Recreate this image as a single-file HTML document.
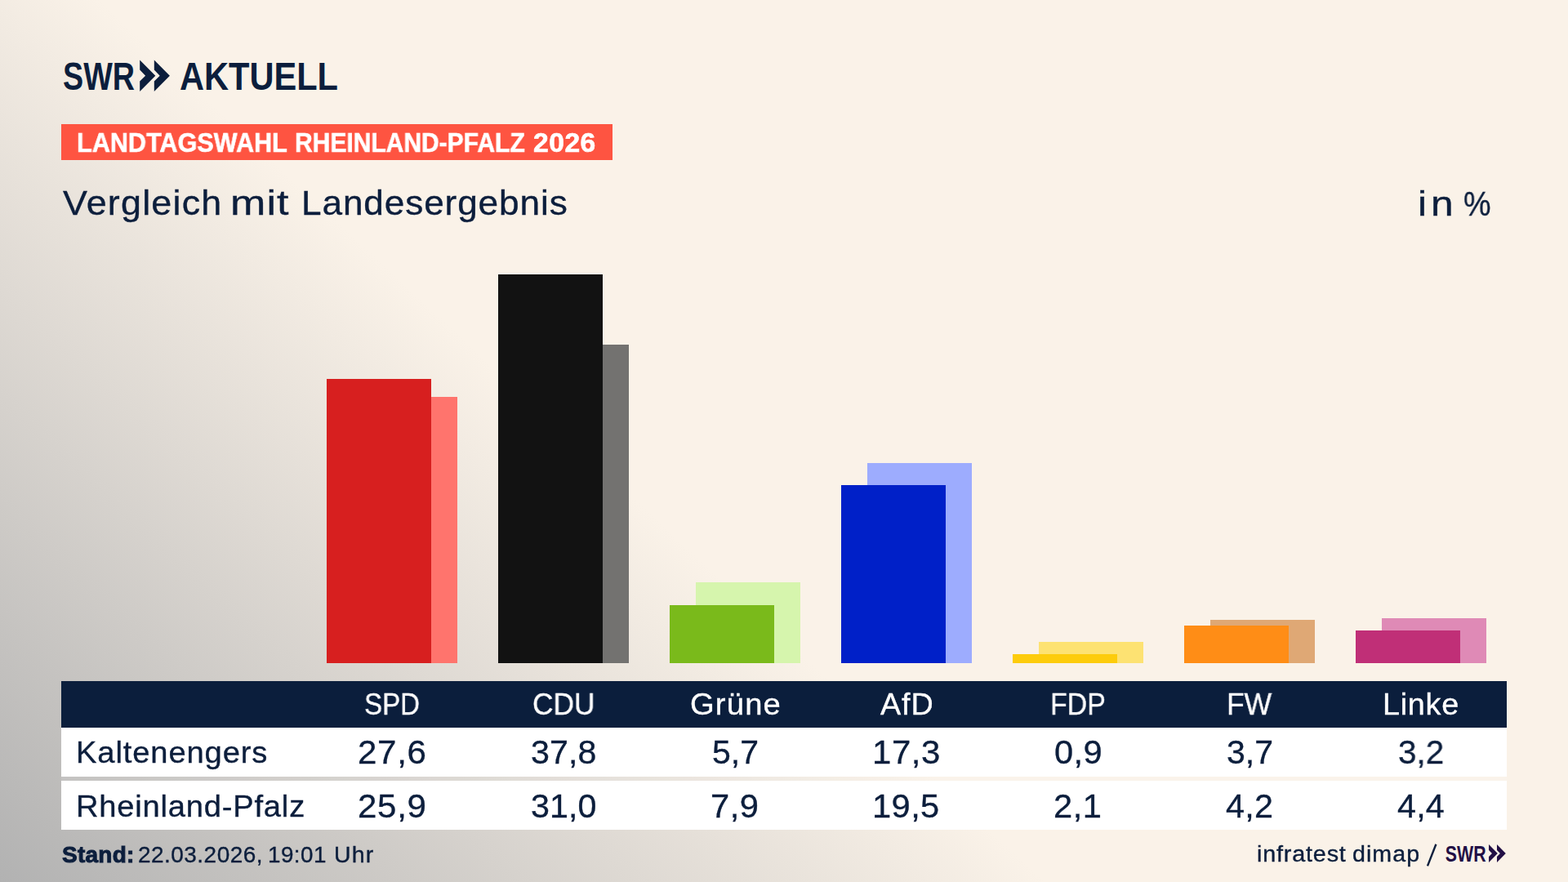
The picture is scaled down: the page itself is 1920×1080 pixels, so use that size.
<!DOCTYPE html>
<html lang="de"><head><meta charset="utf-8"><title>Vergleich mit Landesergebnis</title>
<style>
html,body{margin:0;padding:0}
body{width:1920px;height:1080px;overflow:hidden;position:relative;font-family:"Liberation Sans",sans-serif;
 background:linear-gradient(43deg,#b2b2b2 0%,#faf2e8 41.6%,#faf2e8 100%);}
.t{position:absolute;white-space:pre;line-height:normal;transform-origin:0 0;margin:0;padding:0;will-change:transform;-webkit-text-stroke:0.35px currentColor}
.bar{position:absolute;width:128px}
.box{position:absolute}
</style></head>
<body>
<svg style="position:absolute;left:0;top:0" width="440" height="130" viewBox="0 0 440 130"><text x="77" y="109.7" font-family="Liberation Sans, sans-serif" font-weight="bold" font-size="48.5" fill="#0c1e3c" textLength="88" lengthAdjust="spacingAndGlyphs">SWR</text><path fill-rule="evenodd" fill="#0c1e3c" d="M171.20 73.40 L190.30 92.80 L171.20 111.90 L171.20 99.60 L178.10 92.80 L171.20 85.60 Z M188.80 73.40 L207.90 92.80 L188.80 111.90 L188.80 99.60 L195.70 92.80 L188.80 85.60 Z"/><text x="220" y="109.7" font-family="Liberation Sans, sans-serif" font-weight="bold" font-size="48.5" fill="#0c1e3c" textLength="194" lengthAdjust="spacingAndGlyphs">AKTUELL</text></svg>
<div class="box" style="left:75px;top:152.4px;width:675px;height:43.8px;background:#fe5441"></div>
<div class="bar" style="left:432px;top:486px;height:326px;background:#ff746d"></div>
<div class="bar" style="left:400px;top:464px;height:348px;background:#d71f1f"></div>
<div class="bar" style="left:642px;top:422px;height:390px;background:#737270"></div>
<div class="bar" style="left:610px;top:336px;height:476px;background:#121212"></div>
<div class="bar" style="left:852px;top:713px;height:99px;background:#d6f5ad"></div>
<div class="bar" style="left:820px;top:741px;height:71px;background:#7aba1b"></div>
<div class="bar" style="left:1062px;top:567px;height:245px;background:#9dacfe"></div>
<div class="bar" style="left:1030px;top:594px;height:218px;background:#0020c8"></div>
<div class="bar" style="left:1272px;top:786px;height:26px;background:#fde272"></div>
<div class="bar" style="left:1240px;top:801px;height:11px;background:#fdcc0c"></div>
<div class="bar" style="left:1482px;top:759px;height:53px;background:#dfa875"></div>
<div class="bar" style="left:1450px;top:766px;height:46px;background:#ff8d16"></div>
<div class="bar" style="left:1692px;top:757px;height:55px;background:#df8ab6"></div>
<div class="bar" style="left:1660px;top:772px;height:40px;background:#c02f77"></div>
<div class="box" style="left:75px;top:834px;width:1770px;height:56.5px;background:#0b1e3c"></div>
<div class="box" style="left:75px;top:890.5px;width:1770px;height:125.5px;background:rgba(255,255,255,.1)"></div>
<div class="box" style="left:75px;top:890.5px;width:1770px;height:60.5px;background:#fff"></div>
<div class="box" style="left:75px;top:955.6px;width:1770px;height:60.3px;background:#fff"></div>
<div class="t" id="lab1" style="left:93.84px;top:155.7px;font-size:33px;color:#fff;font-weight:bold;-webkit-text-stroke-width:0.6px;transform:scaleX(0.9276);">LANDTAGSWAHL</div>
<div class="t" id="lab2" style="left:361.28px;top:155.7px;font-size:33px;color:#fff;font-weight:bold;-webkit-text-stroke-width:0.6px;transform:scaleX(0.9091);">RHEINLAND-PFALZ</div>
<div class="t" id="lab3" style="left:653.08px;top:155.7px;font-size:33px;color:#fff;font-weight:bold;-webkit-text-stroke-width:0.6px;letter-spacing:0.464px;transform:scaleX(1.0197);">2026</div>
<div class="t" id="t1" style="left:76.5px;top:225.3px;font-size:42.5px;color:#0c1e3c;letter-spacing:1.142px;transform:scaleX(1.056);">Vergleich</div>
<div class="t" id="t2" style="left:282.25px;top:225.3px;font-size:42.5px;color:#0c1e3c;letter-spacing:0.886px;transform:scaleX(1.224);">mit</div>
<div class="t" id="t3" style="left:368.58px;top:225.3px;font-size:42.5px;color:#0c1e3c;letter-spacing:0.855px;transform:scaleX(1.0387);">Landesergebnis</div>
<div class="t" id="inp" style="left:1736.41px;top:225.5px;font-size:42.5px;color:#0c1e3c;letter-spacing:4.146px;transform:scaleX(1.1707);">in</div>
<div class="t" id="inq" style="left:1791.61px;top:225.5px;font-size:42.5px;color:#0c1e3c;transform:scaleX(0.8861);">%</div>
<div class="t" id="h1" style="left:446.31px;top:842.3px;font-size:37px;color:#fff;transform:scaleX(0.8943);">SPD</div>
<div class="t" id="h2" style="left:652.05px;top:842.3px;font-size:37px;color:#fff;transform:scaleX(0.9524);">CDU</div>
<div class="t" id="h3" style="left:844.75px;top:842.3px;font-size:36.5px;color:#fff;letter-spacing:1.105px;transform:scaleX(1.0467);">Grüne</div>
<div class="t" id="h4" style="left:1078.0px;top:842.3px;font-size:36.5px;color:#fff;letter-spacing:0.924px;transform:scaleX(1.0321);">AfD</div>
<div class="t" id="h5" style="left:1286.45px;top:842.3px;font-size:37px;color:#fff;transform:scaleX(0.9175);">FDP</div>
<div class="t" id="h6" style="left:1501.83px;top:842.3px;font-size:37px;color:#fff;transform:scaleX(0.9579);">FW</div>
<div class="t" id="h7" style="left:1693.2px;top:842.3px;font-size:36.5px;color:#fff;letter-spacing:0.694px;transform:scaleX(1.0346);">Linke</div>
<div class="t" id="r1" style="left:93.11px;top:900.7px;font-size:36.5px;color:#0c1e3c;letter-spacing:0.833px;transform:scaleX(1.0454);">Kaltenengers</div>
<div class="t" id="r2" style="left:93.12px;top:966.5px;font-size:36.5px;color:#0c1e3c;letter-spacing:0.764px;transform:scaleX(1.044);">Rheinland-Pfalz</div>
<div class="t" id="a1" style="left:437.95px;top:898.2px;font-size:41px;color:#0c1e3c;letter-spacing:0.65px;transform:scaleX(1.0263);">27,6</div>
<div class="t" id="a2" style="left:650.3px;top:898.2px;font-size:41px;color:#0c1e3c;letter-spacing:0.117px;transform:scaleX(1.0045);">37,8</div>
<div class="t" id="a3" style="left:872.3px;top:898.2px;font-size:41px;color:#0c1e3c;letter-spacing:0.002px;transform:scaleX(1.0001);">5,7</div>
<div class="t" id="a4" style="left:1067.73px;top:898.2px;font-size:41px;color:#0c1e3c;letter-spacing:0.555px;transform:scaleX(1.0227);">17,3</div>
<div class="t" id="a5" style="left:1290.69px;top:898.2px;font-size:41px;color:#0c1e3c;letter-spacing:0.396px;transform:scaleX(1.0148);">0,9</div>
<div class="t" id="a6" style="left:1502.3px;top:898.2px;font-size:41px;color:#0c1e3c;letter-spacing:0.002px;transform:scaleX(1.0001);">3,7</div>
<div class="t" id="a7" style="left:1712.31px;top:898.2px;font-size:41px;color:#0c1e3c;transform:scaleX(0.9854);">3,2</div>
<div class="t" id="b1" style="left:437.95px;top:963.8px;font-size:41px;color:#0c1e3c;letter-spacing:0.65px;transform:scaleX(1.0263);">25,9</div>
<div class="t" id="b2" style="left:650.3px;top:963.8px;font-size:41px;color:#0c1e3c;letter-spacing:0.117px;transform:scaleX(1.0045);">31,0</div>
<div class="t" id="b3" style="left:870.47px;top:963.8px;font-size:41px;color:#0c1e3c;letter-spacing:0.444px;transform:scaleX(1.017);">7,9</div>
<div class="t" id="b4" style="left:1067.75px;top:963.8px;font-size:41px;color:#0c1e3c;letter-spacing:0.394px;transform:scaleX(1.0158);">19,5</div>
<div class="t" id="b5" style="left:1290.47px;top:963.8px;font-size:41px;color:#0c1e3c;letter-spacing:0.444px;transform:scaleX(1.017);">2,1</div>
<div class="t" id="b6" style="left:1500.8px;top:963.8px;font-size:41px;color:#0c1e3c;letter-spacing:0.249px;transform:scaleX(1.0091);">4,2</div>
<div class="t" id="b7" style="left:1711.3px;top:963.8px;font-size:41px;color:#0c1e3c;letter-spacing:0.2px;transform:scaleX(1.0072);">4,4</div>
<div class="t" id="f1" style="left:76.1px;top:1030.9px;font-size:27.5px;color:#0c1e3c;font-weight:bold;-webkit-text-stroke-width:0.95px;letter-spacing:0.267px;transform:scaleX(1.0162);">Stand:</div>
<div class="t" id="f2" style="left:168.57px;top:1031.9px;font-size:27px;color:#0c1e3c;letter-spacing:0.472px;transform:scaleX(1.0349);">22.03.2026,</div>
<div class="t" id="f3" style="left:327.74px;top:1031.9px;font-size:27px;color:#0c1e3c;letter-spacing:0.456px;transform:scaleX(1.029);">19:01</div>
<div class="t" id="f4" style="left:409.29px;top:1031.9px;font-size:27px;color:#0c1e3c;letter-spacing:1.086px;transform:scaleX(1.0552);">Uhr</div>
<div class="t" id="g1" style="left:1539.23px;top:1031.3px;font-size:27px;color:#0c1e3c;letter-spacing:0.748px;transform:scaleX(1.0668);">infratest</div>
<div class="t" id="g2" style="left:1656.14px;top:1031.3px;font-size:27px;color:#0c1e3c;letter-spacing:0.989px;transform:scaleX(1.0586);">dimap</div>
<svg style="position:absolute;left:1740px;top:1028px" width="28" height="38" viewBox="1740 1028 28 38"><line x1="1748" y1="1060.4" x2="1758.4" y2="1033.8" stroke="#0c1e3c" stroke-width="2.4"/></svg>
<svg style="position:absolute;left:1760px;top:1025px" width="100" height="40" viewBox="1760 1025 100 40"><g transform="translate(1726.32 992.03) scale(0.565 0.572)"><text x="77" y="109.7" font-family="Liberation Sans, sans-serif" font-weight="bold" font-size="48.5" fill="#220f45" textLength="88" lengthAdjust="spacingAndGlyphs">SWR</text><path fill-rule="evenodd" fill="#220f45" d="M171.20 73.40 L190.30 92.80 L171.20 111.90 L171.20 99.60 L178.10 92.80 L171.20 85.60 Z M188.80 73.40 L207.90 92.80 L188.80 111.90 L188.80 99.60 L195.70 92.80 L188.80 85.60 Z"/></g></svg>
</body></html>
